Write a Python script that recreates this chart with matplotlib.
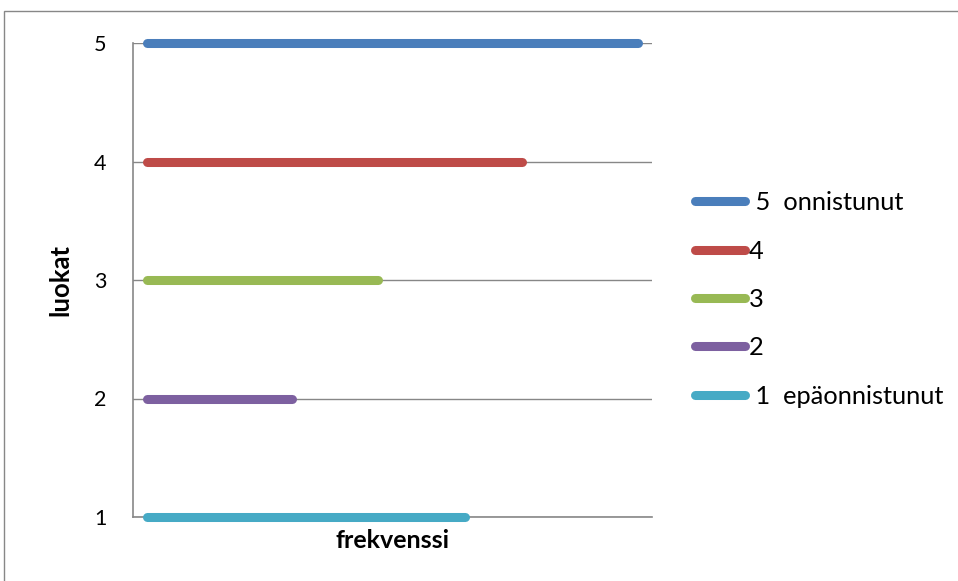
import matplotlib
matplotlib.use("Agg")
import matplotlib.pyplot as plt
from matplotlib.patches import Rectangle
import numpy as np

# class levels and how many observations fall in each
classes = [5, 4, 3, 2, 1]
frequency = [18, 14, 9, 6, 12]
labels = [' 5  onnistunut', '4', '3', '2', ' 1  epäonnistunut']
colors = ['#4A7EBB', '#BE4B48', '#98B954', '#7D60A0', '#46AAC5']
n_categories = max(frequency)

plt.rcParams['font.family'] = ['Lato', 'DejaVu Sans']
grey = '#878787'

fig = plt.figure(figsize=(9.58, 5.81), dpi=100)
ax = fig.add_axes([133 / 958, 1 - 517 / 581, (652 - 133) / 958, (517 - 43) / 581])

for level, n, lab, col in zip(classes, frequency, labels, colors):
    xs = np.arange(n)
    ax.plot(xs, [level] * n, color=col, lw=6.5, solid_capstyle='round',
            label=lab, clip_on=False, zorder=3)

ax.set_xlim(-0.5, n_categories - 0.5)
ax.set_ylim(1, 5)
ax.set_yticks([1, 2, 3, 4, 5])
ax.set_xticks([])
ax.yaxis.grid(True, color=grey, lw=1)
ax.set_axisbelow(True)
for side in ['top', 'right']:
    ax.spines[side].set_visible(False)
for side in ['left', 'bottom']:
    ax.spines[side].set_color(grey)
    ax.spines[side].set_linewidth(1.2)
ax.tick_params(axis='y', length=0, labelsize=15.5, pad=19)

ax.set_ylabel('luokat', fontsize=18.5, fontweight='bold', labelpad=16)
ax.set_xlabel('frekvenssi', fontsize=18, fontweight='bold', labelpad=9)

leg = ax.legend(loc='center left', bbox_to_anchor=(1.082, 0.459), frameon=False,
                fontsize=18.3, handlelength=2.0, handletextpad=0.15,
                labelspacing=1.0, borderaxespad=0, borderpad=0)

# outer chart border
fig.add_artist(Rectangle((4 / 958, -0.1), 1.1, 1 - 11 / 581 + 0.1,
                         transform=fig.transFigure, fill=False,
                         edgecolor=grey, lw=1))

fig.savefig('out.png', dpi=100)
